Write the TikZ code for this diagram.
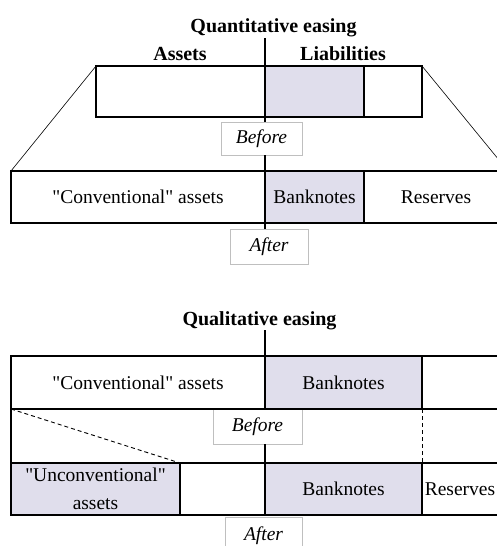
\documentclass[tikz,border=0pt]{standalone}
\usepackage{fontspec}
\setmainfont{Liberation Serif}[Ligatures=TeXOff]
\definecolor{cellshade}{RGB}{224,222,236}
\definecolor{boxgray}{RGB}{191,191,191}
\begin{document}
\begin{tikzpicture}[x=1pt,y=-1pt,
  cellbox/.style={draw=black,line width=1.4pt,anchor=north west,inner sep=0pt,outer sep=0pt,font=\fontsize{19.5}{28}\selectfont},
  shaded/.style={fill=cellshade},
  cellline/.style={line width=1.4pt},
  tagbox/.style={draw=boxgray,line width=0.8pt,fill=white,anchor=north west,inner sep=0pt,outer sep=0pt,font=\fontsize{19.5}{23}\selectfont\itshape},
  heading/.style={anchor=base,inner sep=0pt,font=\fontsize{20}{24}\selectfont\bfseries},
  axis/.style={line width=2.6pt},
  guide/.style={line width=0.6pt},
  dashguide/.style={line width=0.9pt,dash pattern=on 4pt off 3pt}]
\useasboundingbox (0,0) rectangle (497,546);
\clip (0,0) rectangle (497,546);

% ---------- Quantitative easing ----------
\node[heading] (qetitle) at (273.5,32.5) {Quantitative easing};
\node[heading] (assets) at (180,60) {Assets};
\node[heading] (liab) at (343,60) {Liabilities};
\coordinate (qetop) at (265,38);

\node[cellbox,minimum width=169pt,minimum height=51pt] (a1) at (96,66) {};
\node[cellbox,shaded,minimum width=99pt,minimum height=51pt] (l1) at (265,66) {};
\node[cellbox,minimum width=58pt,minimum height=51pt] (r1) at (364,66) {};

\node[cellbox,minimum width=254pt,minimum height=52pt] (conv) at (11,171) {"Conventional" assets};
\node[cellbox,shaded,minimum width=99pt,minimum height=52pt] (bank) at (265,171) {Banknotes};
\node[cellbox,minimum width=144pt,minimum height=52pt] (res) at (364,171) {Reserves};

\node[tagbox,minimum width=81pt,minimum height=33pt] (before1) at (221,122) {Before};
\node[tagbox,minimum width=78pt,minimum height=35pt] (after1) at (230,229) {After};

\draw[guide] (a1.north west) -- (conv.north west);
\draw[guide] (r1.north east) -- (res.north east);
\draw[axis] (qetop) -- (qetop |- before1.north);
\draw[axis] (qetop |- before1.south) -- (qetop |- after1.north);

% ---------- Qualitative easing ----------
\node[heading] (qltitle) at (259.5,325) {Qualitative easing};
\coordinate (qltop) at (265,330);

\node[tagbox,minimum width=89pt,minimum height=35pt] (before2) at (213,409) {Before};

\node[cellbox,minimum width=254pt,minimum height=53pt] (conv2) at (11,356) {"Conventional" assets};
\node[cellbox,shaded,minimum width=157pt,minimum height=53pt] (bank2) at (265,356) {Banknotes};
\node[cellbox,minimum width=86pt,minimum height=53pt] (right2) at (422,356) {};

\node[cellbox,shaded,align=center,minimum width=169pt,minimum height=52pt] (unconv) at (11,463) {"Unconventional"\\assets};
\node[cellbox,minimum width=85pt,minimum height=52pt] (gap3) at (180,463) {};
\node[cellbox,shaded,minimum width=157pt,minimum height=52pt] (bank3) at (265,463) {Banknotes};
\node[cellbox,minimum width=76pt,minimum height=52pt] (res3) at (422,463) {Reserves};

\node[tagbox,minimum width=77pt,minimum height=37pt] (after2) at (225,517) {After};

\draw[cellline] (conv2.south west) -- (unconv.north west);
\draw[dashguide] (conv2.south west) -- (unconv.north east);
\draw[dashguide] (bank2.south east) -- (res3.north west);
\draw[axis] (qltop) -- (qltop |- before2.north);
\draw[axis] (qltop |- before2.south) -- (qltop |- bank3.south);
\end{tikzpicture}
\end{document}
